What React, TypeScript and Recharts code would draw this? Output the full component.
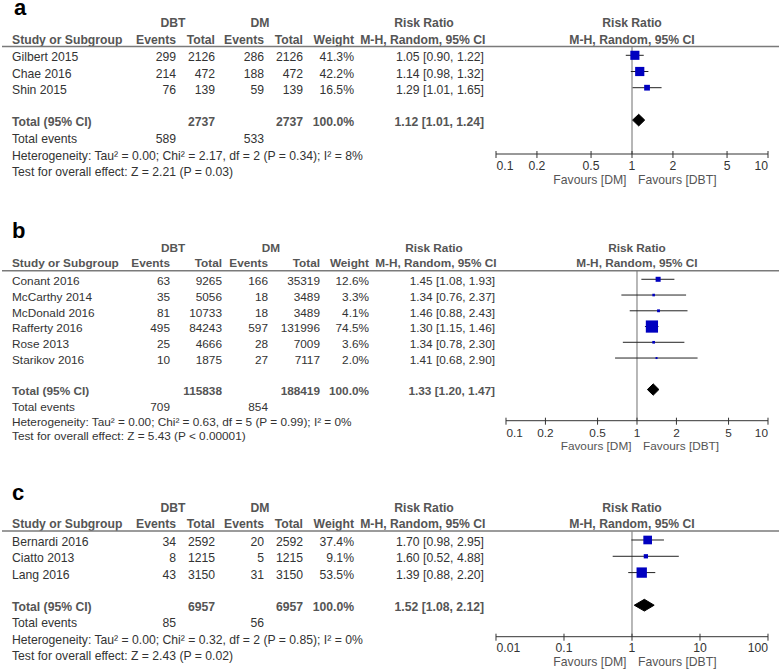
import React from "react";
import { ComposedChart, ErrorBar, ReferenceLine, Scatter, XAxis, YAxis, ZAxis } from "recharts";

// panel a
const studiesA = ["Gilbert 2015", "Chae 2016", "Shin 2015"];
const dbtEventsA = [299, 214, 76];
const dbtTotalA = [2126, 472, 139];
const dmEventsA = [286, 188, 59];
const dmTotalA = [2126, 472, 139];
const weightsA = [41.3, 42.2, 16.5];
const rrA = [1.05, 1.14, 1.29];
const lowerA = [0.9, 0.98, 1.01];
const upperA = [1.22, 1.32, 1.65];
const pooledA = [1.12, 1.01, 1.24];
const totalsA = [2737, 2737];
const eventsA = [589, 533];
const hetA = "Heterogeneity: Tau² = 0.00; Chi² = 2.17, df = 2 (P = 0.34); I² = 8%";
const testA = "Test for overall effect: Z = 2.21 (P = 0.03)";
const ticksA = [0.1, 0.2, 0.5, 1, 2, 5, 10];

// panel b
const studiesB = ["Conant 2016", "McCarthy 2014", "McDonald 2016", "Rafferty 2016", "Rose 2013", "Starikov 2016"];
const dbtEventsB = [63, 35, 81, 495, 25, 10];
const dbtTotalB = [9265, 5056, 10733, 84243, 4666, 1875];
const dmEventsB = [166, 18, 18, 597, 28, 27];
const dmTotalB = [35319, 3489, 3489, 131996, 7009, 7117];
const weightsB = [12.6, 3.3, 4.1, 74.5, 3.6, 2.0];
const rrB = [1.45, 1.34, 1.46, 1.3, 1.34, 1.41];
const lowerB = [1.08, 0.76, 0.88, 1.15, 0.78, 0.68];
const upperB = [1.93, 2.37, 2.43, 1.46, 2.3, 2.9];
const pooledB = [1.33, 1.2, 1.47];
const totalsB = [115838, 188419];
const eventsB = [709, 854];
const hetB = "Heterogeneity: Tau² = 0.00; Chi² = 0.63, df = 5 (P = 0.99); I² = 0%";
const testB = "Test for overall effect: Z = 5.43 (P < 0.00001)";
const ticksB = [0.1, 0.2, 0.5, 1, 2, 5, 10];

// panel c
const studiesC = ["Bernardi 2016", "Ciatto 2013", "Lang 2016"];
const dbtEventsC = [34, 8, 43];
const dbtTotalC = [2592, 1215, 3150];
const dmEventsC = [20, 5, 31];
const dmTotalC = [2592, 1215, 3150];
const weightsC = [37.4, 9.1, 53.5];
const rrC = [1.7, 1.6, 1.39];
const lowerC = [0.98, 0.52, 0.88];
const upperC = [2.95, 4.88, 2.2];
const pooledC = [1.52, 1.08, 2.12];
const totalsC = [6957, 6957];
const eventsC = [85, 56];
const hetC = "Heterogeneity: Tau² = 0.00; Chi² = 0.32, df = 2 (P = 0.85); I² = 0%";
const testC = "Test for overall effect: Z = 2.43 (P = 0.02)";
const ticksC = [0.01, 0.1, 1, 10, 100];

const FONT = "'Liberation Sans', Arial, sans-serif";
const W = 779;

type Cols = { dbtE: number; dbtT: number; dmE: number; dmT: number; wt: number; rr: number; rrHead: number; dbtHead: number; dmHead: number };

type Layout = {
  label: string; labelX: number; labelY: number; fs: number;
  head1: number; head2: number; lineY: number;
  r0: number; pitch: number; textDy: number;
  footY: number[]; plotTop: number; plotBottom: number; plotLeft: number;
  mid: number; cols: Cols;
};

type Panel = {
  studies: string[]; dbtEvents: number[]; dbtTotal: number[]; dmEvents: number[]; dmTotal: number[];
  weights: number[]; rr: number[]; lower: number[]; upper: number[]; pooled: number[];
  totals: number[]; events: number[]; het: string; test: string; ticks: number[]; layout: Layout;
};

const colsAC: Cols = { dbtE: 176, dbtT: 215, dmE: 264, dmT: 303, wt: 354, rr: 484, rrHead: 424, dbtHead: 173, dmHead: 260 };
const colsB: Cols = { dbtE: 170, dbtT: 222, dmE: 268, dmT: 320, wt: 369, rr: 495, rrHead: 434, dbtHead: 173, dmHead: 271 };

const panels: Panel[] = [
  {
    studies: studiesA, dbtEvents: dbtEventsA, dbtTotal: dbtTotalA, dmEvents: dmEventsA, dmTotal: dmTotalA,
    weights: weightsA, rr: rrA, lower: lowerA, upper: upperA, pooled: pooledA, totals: totalsA, events: eventsA,
    het: hetA, test: testA, ticks: ticksA,
    layout: {
      label: "a", labelX: 14, labelY: 14.5, fs: 12.2, head1: 23, head2: 39.5, lineY: 46.5,
      r0: 55.3, pitch: 16.2, textDy: 2, footY: [139, 155.5, 172],
      plotTop: 47, plotBottom: 154, plotLeft: 496, mid: 632, cols: colsAC,
    },
  },
  {
    studies: studiesB, dbtEvents: dbtEventsB, dbtTotal: dbtTotalB, dmEvents: dmEventsB, dmTotal: dmTotalB,
    weights: weightsB, rr: rrB, lower: lowerB, upper: upperB, pooled: pooledB, totals: totalsB, events: eventsB,
    het: hetB, test: testB, ticks: ticksB,
    layout: {
      label: "b", labelX: 12, labelY: 238, fs: 11.8, head1: 248, head2: 263, lineY: 270.7,
      r0: 279.3, pitch: 15.75, textDy: 1.8, footY: [407.3, 421.7, 435.5],
      plotTop: 271, plotBottom: 420.7, plotLeft: 506, mid: 637, cols: colsB,
    },
  },
  {
    studies: studiesC, dbtEvents: dbtEventsC, dbtTotal: dbtTotalC, dmEvents: dmEventsC, dmTotal: dmTotalC,
    weights: weightsC, rr: rrC, lower: lowerC, upper: upperC, pooled: pooledC, totals: totalsC, events: eventsC,
    het: hetC, test: testC, ticks: ticksC,
    layout: {
      label: "c", labelX: 12, labelY: 500, fs: 12.2, head1: 507.7, head2: 524, lineY: 531,
      r0: 540, pitch: 16.3, textDy: 2, footY: [623, 640, 656],
      plotTop: 531.5, plotBottom: 636.7, plotLeft: 496, mid: 632, cols: colsAC,
    },
  },
];

const ci = (v: number[]) => `${v[0].toFixed(2)} [${v[1].toFixed(2)}, ${v[2].toFixed(2)}]`;

const Square = (p: any) => {
  const s = p.size != null ? Math.sqrt(p.size) : (p.width || 4) * 0.886;
  return <rect x={p.cx - s / 2} y={p.cy - s / 2} width={s} height={s} fill="#0000c0" />;
};

const makeTick = (ticks: number[], fs: number) => (p: any) => {
  const v = p.payload.value;
  const anchor = v === ticks[0] ? "start" : v === ticks[ticks.length - 1] ? "end" : "middle";
  return (
    <g>
      <line x1={p.x} x2={p.x} y1={p.y - 3} y2={p.y + 4} stroke="#333" />
      <text x={p.x + (anchor === "start" ? 0.5 : 0)} y={p.y + 11.5} textAnchor={anchor} dominantBaseline="central"
        fontSize={fs} fontFamily={FONT} fill="#333">{String(v)}</text>
    </g>
  );
};

function Forest({ p }: { p: Panel }) {
  const L = p.layout;
  const yTop = (L.plotTop - L.r0) / L.pitch;
  const yBottom = (L.plotBottom - L.r0) / L.pitch;
  const totalRow = p.studies.length + 1;
  const points = p.studies.map((s, i) => ({
    x: p.rr[i], y: i, w: p.weights[i], err: [p.rr[i] - p.lower[i], p.upper[i] - p.rr[i]],
  }));
  const h = 0.36;
  const diamond = [
    { x: p.pooled[1], y: totalRow },
    { x: p.pooled[0], y: totalRow - h },
    { x: p.pooled[2], y: totalRow },
    { x: p.pooled[0], y: totalRow + h },
    { x: p.pooled[1], y: totalRow },
  ];
  return (
    <div style={{ position: "absolute", left: 0, top: 0 }}>
      <ComposedChart width={W} height={L.plotBottom + 32}
        margin={{ top: L.plotTop, right: W - 768, bottom: 2, left: L.plotLeft }}>
        <XAxis type="number" dataKey="x" scale="log" domain={[p.ticks[0], p.ticks[p.ticks.length - 1]]}
          ticks={p.ticks} interval={0} allowDataOverflow tickSize={0} tickMargin={0} tickLine={false}
          tick={makeTick(p.ticks, L.fs)} stroke="#333" height={30} />
        <YAxis type="number" dataKey="y" domain={[yTop, yBottom]} reversed hide allowDataOverflow />
        <ZAxis type="number" dataKey="w" domain={[0, 100]} range={[0, 200]} />
        <ReferenceLine x={1} stroke="#6f6f6f" strokeWidth={1} />
        <Scatter data={points} shape={() => null} isAnimationActive={false}>
          <ErrorBar dataKey="err" direction="x" width={0} stroke="#222" strokeWidth={1} isAnimationActive={false} />
        </Scatter>
        <Scatter data={points} shape={Square} isAnimationActive={false} />
        <Scatter data={diamond} shape={() => null} line={{ fill: "#000", stroke: "#000", strokeWidth: 1 }}
          lineType="joint" isAnimationActive={false} />
      </ComposedChart>
    </div>
  );
}

function Table({ p }: { p: Panel }) {
  const L = p.layout;
  const c = L.cols;
  const rowY = (i: number) => L.r0 + L.pitch * i + L.textDy;
  const totalY = rowY(p.studies.length + 1);
  const head = { fontWeight: "bold" as const, fill: "#555" };
  const body = { fill: "#333" };
  return (
    <g fontFamily={FONT} fontSize={L.fs} dominantBaseline="central">
      <text x={L.labelX} y={L.labelY} fontSize={22} fontWeight="bold" fill="#000" dominantBaseline="alphabetic">{L.label}</text>
      <text x={c.dbtHead} y={L.head1} textAnchor="middle" {...head}>DBT</text>
      <text x={c.dmHead} y={L.head1} textAnchor="middle" {...head}>DM</text>
      <text x={c.rrHead} y={L.head1} textAnchor="middle" {...head}>Risk Ratio</text>
      <text x={L.mid} y={L.head1} textAnchor="middle" {...head}>Risk Ratio</text>
      <text x={12} y={L.head2} {...head}>Study or Subgroup</text>
      <text x={c.dbtE} y={L.head2} textAnchor="end" {...head}>Events</text>
      <text x={c.dbtT} y={L.head2} textAnchor="end" {...head}>Total</text>
      <text x={c.dmE} y={L.head2} textAnchor="end" {...head}>Events</text>
      <text x={c.dmT} y={L.head2} textAnchor="end" {...head}>Total</text>
      <text x={c.wt} y={L.head2} textAnchor="end" {...head}>Weight</text>
      <text x={c.rr + 1.5} y={L.head2} textAnchor="end" {...head}>M-H, Random, 95% CI</text>
      <text x={L.mid} y={L.head2} textAnchor="middle" {...head}>M-H, Random, 95% CI</text>
      <line x1={2} x2={W} y1={L.lineY} y2={L.lineY} stroke="#7a7a7a" strokeWidth={1.5} />
      {p.studies.map((s, i) => (
        <g key={s} {...body}>
          <text x={12} y={rowY(i)}>{s}</text>
          <text x={c.dbtE} y={rowY(i)} textAnchor="end">{p.dbtEvents[i]}</text>
          <text x={c.dbtT} y={rowY(i)} textAnchor="end">{p.dbtTotal[i]}</text>
          <text x={c.dmE} y={rowY(i)} textAnchor="end">{p.dmEvents[i]}</text>
          <text x={c.dmT} y={rowY(i)} textAnchor="end">{p.dmTotal[i]}</text>
          <text x={c.wt} y={rowY(i)} textAnchor="end">{p.weights[i].toFixed(1)}%</text>
          <text x={c.rr} y={rowY(i)} textAnchor="end">{ci([p.rr[i], p.lower[i], p.upper[i]])}</text>
        </g>
      ))}
      <text x={12} y={totalY} {...head}>Total (95% CI)</text>
      <text x={c.dbtT} y={totalY} textAnchor="end" {...head}>{p.totals[0]}</text>
      <text x={c.dmT} y={totalY} textAnchor="end" {...head}>{p.totals[1]}</text>
      <text x={c.wt} y={totalY} textAnchor="end" {...head}>100.0%</text>
      <text x={c.rr} y={totalY} textAnchor="end" {...head}>{ci(p.pooled)}</text>
      <text x={12} y={L.footY[0]} {...body}>Total events</text>
      <text x={c.dbtE} y={L.footY[0]} textAnchor="end" {...body}>{p.events[0]}</text>
      <text x={c.dmE} y={L.footY[0]} textAnchor="end" {...body}>{p.events[1]}</text>
      <text x={12} y={L.footY[1]} {...body}>{p.het}</text>
      <text x={12} y={L.footY[2]} {...body}>{p.test}</text>
      <text x={L.mid - 5.5} y={L.plotBottom + 25.5} textAnchor="end" fill="#555">Favours [DM]</text>
      <text x={L.mid + 6} y={L.plotBottom + 25.5} fill="#555">Favours [DBT]</text>
    </g>
  );
}

export default function App() {
  return (
    <div style={{ position: "absolute", left: 0, top: 0, width: W, height: 669, background: "#fff", overflow: "hidden" }}>
      <svg width={W} height={669} style={{ position: "absolute", left: 0, top: 0 }}>
        {panels.map((p) => <Table key={p.layout.label} p={p} />)}
      </svg>
      {panels.map((p) => <Forest key={p.layout.label} p={p} />)}
    </div>
  );
}
